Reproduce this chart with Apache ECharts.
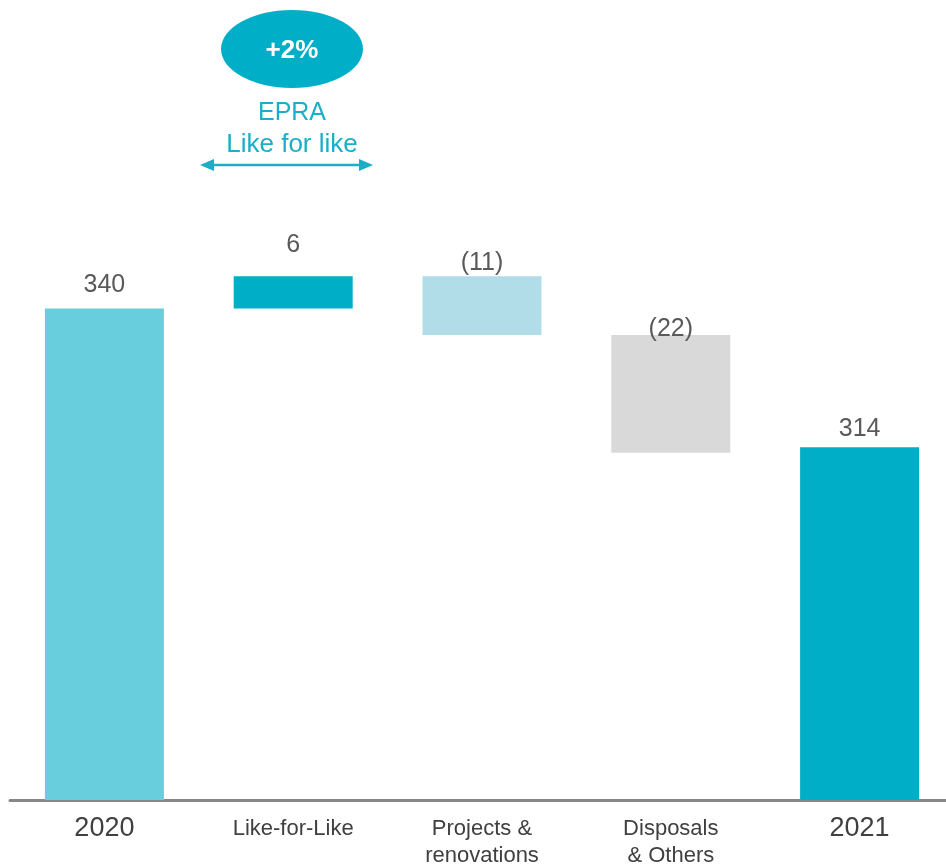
<!DOCTYPE html>
<html>
<head>
<meta charset="utf-8">
<script src="https://cdn.jsdelivr.net/npm/echarts@6/dist/echarts.min.js"></script>
<style>
  html, body { margin: 0; padding: 0; background: #fff; overflow: hidden; }
  #chart { width: 954px; height: 868px; }
</style>
</head>
<body>
<div id="chart"></div>
<script>
// waterfall data
const categories = ['2020', 'Like-for-Like', 'Projects &\nrenovations', 'Disposals\n& Others', '2021'];
const changes = [340, 6, -11, -22, 314];
const isTotal = [true, false, false, false, true];
const valueLabels = ['340', '6', '(11)', '(22)', '314'];

const barColors = ['#68CDDC', '#00AFC7', '#B1DDE9', '#D9D9D9', '#00AFC7'];
const labelGap = [11, 19, 1, -6, 6];

// build invisible base + visible part from the running total
const base = [];
const visible = [];
let running = 0;
changes.forEach((v, i) => {
  if (isTotal[i]) {
    base.push(0);
    visible.push(v);
    running = v;
  } else if (v >= 0) {
    base.push(running);
    visible.push(v);
    running += v;
  } else {
    running += v;
    base.push(running);
    visible.push(-v);
  }
});

const YMIN = 248;
const chart = echarts.init(document.getElementById('chart'));
const font = "'Liberation Sans', Arial, sans-serif";

chart.setOption({
  animation: false,
  grid: { left: 10, right: 0, top: 100, bottom: 68, containLabel: false },
  xAxis: {
    type: 'category',
    data: categories,
    axisTick: { show: false },
    axisLine: { show: true, lineStyle: { color: '#878787', width: 3 } },
    axisLabel: {
      margin: 15,
      interval: 0,
      formatter: (val) => isTotal[categories.indexOf(val)] ? '{y|' + val + '}' : '{c|' + val.split('\n').join('}\n{c|') + '}',
      rich: {
        y: { fontSize: 27, color: '#404040', fontFamily: font, lineHeight: 28 },
        c: { fontSize: 22, color: '#404040', fontFamily: font, lineHeight: 27 }
      }
    }
  },
  yAxis: {
    type: 'value',
    min: YMIN,
    max: 379,
    show: false,
    splitLine: { show: false }
  },
  series: [
    {
      type: 'bar',
      stack: 'wf',
      barWidth: 119,
      silent: true,
      itemStyle: { color: 'transparent' },
      data: base.map((b, i) => isTotal[i] ? YMIN : b)
    },
    {
      type: 'bar',
      stack: 'wf',
      barWidth: 119,
      data: visible.map((v, i) => ({
        value: isTotal[i] ? v - YMIN : v,
        itemStyle: { color: barColors[i] },
        label: { distance: labelGap[i] }
      })),
      label: {
        show: true,
        position: 'top',
        fontSize: 25,
        color: '#595959',
        fontFamily: font,
        formatter: (p) => valueLabels[p.dataIndex]
      }
    }
  ],
  graphic: [
    {
      type: 'ellipse',
      shape: { cx: 292, cy: 49, rx: 71, ry: 39 },
      style: { fill: '#00AFC7' }
    },
    {
      type: 'text',
      x: 292, y: 51,
      style: {
        text: '+2%', fill: '#fff', font: "bold 26px 'Liberation Sans', Arial, sans-serif",
        align: 'center', verticalAlign: 'middle'
      }
    },
    {
      type: 'text',
      x: 292, y: 113,
      style: {
        text: 'EPRA', fill: '#1AAFC6', font: "25px 'Liberation Sans', Arial, sans-serif",
        align: 'center', verticalAlign: 'middle'
      }
    },
    {
      type: 'text',
      x: 292, y: 145,
      style: {
        text: 'Like for like', fill: '#1AAFC6', font: "26px 'Liberation Sans', Arial, sans-serif",
        align: 'center', verticalAlign: 'middle'
      }
    },
    {
      type: 'line',
      shape: { x1: 208, y1: 165, x2: 365, y2: 165 },
      style: { stroke: '#1AAFC6', lineWidth: 2.5 }
    },
    {
      type: 'polygon',
      shape: { points: [[200, 165], [214, 159], [214, 171]] },
      style: { fill: '#1AAFC6' }
    },
    {
      type: 'polygon',
      shape: { points: [[373, 165], [359, 159], [359, 171]] },
      style: { fill: '#1AAFC6' }
    }
  ]
});
</script>
</body>
</html>
